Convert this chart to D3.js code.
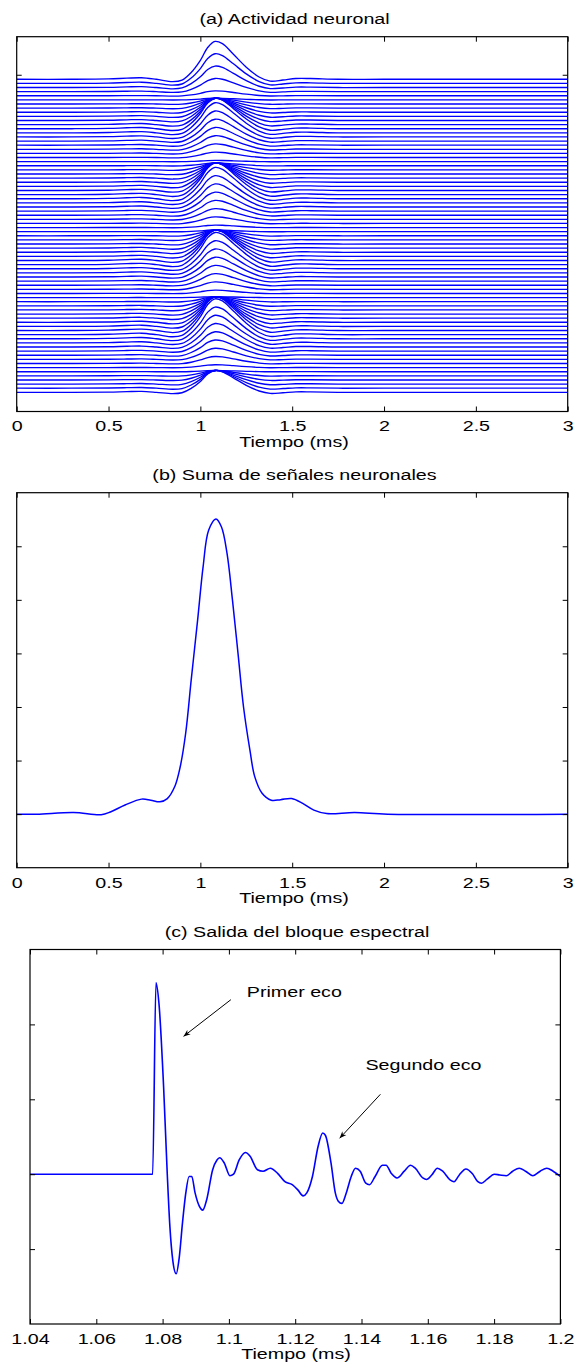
<!DOCTYPE html>
<html>
<head>
<meta charset="utf-8">
<script src="https://cdn.jsdelivr.net/npm/d3@7"></script>
<style>
  body { margin: 0; background: #fff; }
  svg { display: block; }
  text { font-family: "Liberation Sans", Arial, sans-serif; font-size: 15.5px; fill: #000; }
</style>
</head>
<body>
<svg id="chart"></svg>
<script>
// ---- data ----
// (a) unit response of one neuron (ms, normalised amplitude)
const unitTime = [0, 0.3, 0.5, 0.6, 0.68, 0.76, 0.85, 0.9, 0.95, 1.0, 1.04, 1.08, 1.12, 1.18, 1.25, 1.32, 1.38, 1.45, 1.52, 1.6, 1.75, 2.0, 3.0];
const unitValue = [0, 0, 0.01, 0.03, 0.04, 0.0, -0.06, -0.02, 0.18, 0.5, 0.84, 1.0, 0.94, 0.66, 0.32, 0.06, -0.05, -0.02, 0.02, 0.02, 0.0, 0, 0];
// (a) amplitude of each neuron trace, top to bottom (in trace spacings)
const neuronAmp = [
  9.2, 7.2, 5.2, 3.2, 1.2, 0.4, 1.4, 2.4, 3.4, 4.4, 5.4, 6.4, 7.4,
  7.3, 6.3, 5.3, 4.3, 3.3, 2.3, 1.3, 0.3, 0.7, 1.7, 2.7, 3.7, 4.7, 5.7, 6.7, 7.7,
  7.6, 6.6, 5.6, 4.6, 3.6, 2.6, 1.6, 0.6, 0.4, 1.4, 2.4, 3.4, 4.4, 5.4, 6.4, 7.4,
  7.8, 6.8, 5.8, 4.8, 3.8, 2.8, 1.8, 0.8, 0.2, 1.2, 2.2, 3.2, 4.2, 5.2, 6.2, 7.2, 8.2,
  8.7, 7.7, 6.7, 5.7, 4.7, 3.7, 2.7, 1.7, 0.7, 0.3, 1.3, 2.3, 3.3, 4.3, 5.3
];

// (b) sum of neuron signals
const sumTime = [0, 0.11, 0.31, 0.46, 0.51, 0.59, 0.68, 0.73, 0.78, 0.82, 0.86, 0.89, 0.92, 0.95, 0.985, 1.015, 1.045, 1.085, 1.115, 1.145, 1.175, 1.205, 1.235, 1.27, 1.296, 1.336, 1.386, 1.437, 1.497, 1.557, 1.618, 1.688, 1.84, 2.02, 3.0];
const sumValue = [0, 0, 0.03, -0.01, 0.04, 0.17, 0.28, 0.26, 0.23, 0.29, 0.51, 0.88, 1.51, 2.5, 3.62, 4.62, 5.3, 5.51, 5.36, 4.87, 3.99, 3.0, 2.0, 1.19, 0.7, 0.39, 0.26, 0.27, 0.29, 0.2, 0.075, 0.01, 0.03, 0, 0];

// (c) output of the spectral block
const specTime = [1.04, 1.077, 1.078, 1.0789, 1.0803, 1.0814, 1.0822, 1.0831, 1.0841, 1.085, 1.086, 1.087, 1.088, 1.0888, 1.0898, 1.0911, 1.0921, 1.0933, 1.0951, 1.0964, 1.0972, 1.0986, 1.1003, 1.1014, 1.1031, 1.105, 1.1064, 1.1086, 1.1103, 1.1125, 1.1147, 1.1169, 1.1191, 1.1208, 1.1224, 1.1235, 1.1252, 1.1269, 1.1283, 1.1291, 1.1308, 1.1321, 1.133, 1.1341, 1.1354, 1.1369, 1.1382, 1.1396, 1.1413, 1.1424, 1.1441, 1.1463, 1.1474, 1.149, 1.1507, 1.1529, 1.1548, 1.1562, 1.1585, 1.1596, 1.1612, 1.1629, 1.1645, 1.1668, 1.1679, 1.1695, 1.1715, 1.1734, 1.1751, 1.1762, 1.1778, 1.1801, 1.1817, 1.1837, 1.1856, 1.1876, 1.1895, 1.1917, 1.1939, 1.1959, 1.1978, 1.2];
const specValue = [0, 0, 2.556, 2.28, 1.17, 0.01, -0.7, -1.16, -1.33, -1.12, -0.65, -0.25, -0.03, -0.03, -0.25, -0.43, -0.48, -0.34, 0.06, 0.19, 0.22, 0.15, -0.02, 0.0, 0.19, 0.29, 0.24, 0.06, 0.04, 0.08, 0.01, -0.1, -0.14, -0.21, -0.29, -0.25, -0.03, 0.37, 0.55, 0.52, 0.15, -0.25, -0.36, -0.39, -0.25, -0.03, 0.08, 0.04, -0.12, -0.14, -0.03, 0.12, 0.12, 0.01, -0.05, 0.04, 0.12, 0.08, -0.05, -0.07, -0.01, 0.08, 0.04, -0.08, -0.1, -0.01, 0.07, 0.01, -0.1, -0.12, -0.07, 0.0, -0.01, -0.02, 0.04, 0.08, 0.04, -0.02, 0.04, 0.08, 0.04, -0.03];

const ticksAB = [0, 0.5, 1, 1.5, 2, 2.5, 3];
const ticksC = [1.04, 1.06, 1.08, 1.1, 1.12, 1.14, 1.16, 1.18, 1.2];
const titles = ["(a) Actividad neuronal", "(b) Suma de señales neuronales", "(c) Salida del bloque espectral"];
const xLabel = "Tiempo (ms)";
const notes = [
  { text: "Primer eco", at: [1.1054, 2.36], from: [1.1006, 2.33], to: [1.0863, 1.84] },
  { text: "Segundo eco", at: [1.1412, 1.385], from: [1.1457, 1.067], to: [1.1334, 0.479] }
];

// ---- drawing ----
const W = 576;
const H = 1364;
const stretch = 1.27;
const blue = "#0000ff";

const svg = d3.select("#chart").attr("width", W).attr("height", H);
svg.append("rect").attr("width", W).attr("height", H).attr("fill", "#fff");

const label = (x, y, txt, anchor) => {
  svg
    .append("text")
    .attr("transform", `translate(${x},${y}) scale(${stretch},1)`)
    .attr("text-anchor", anchor || "middle")
    .text(txt);
};

const frame = (box, xScale, yScale, xTicks, yTicks, fmt) => {
  const g = svg.append("g");
  const bottom = g
    .append("g")
    .attr("transform", `translate(0,${box.bottom})`)
    .call(d3.axisBottom(xScale).tickValues(xTicks).tickSize(-5).tickSizeOuter(0).tickPadding(9).tickFormat(fmt));
  bottom
    .selectAll("text")
    .attr("transform", `scale(${stretch},1)`)
    .style("font-size", "15.5px")
    .style("font-family", '"Liberation Sans", Arial, sans-serif');
  g.append("g")
    .attr("transform", `translate(0,${box.top})`)
    .call(d3.axisTop(xScale).tickValues(xTicks).tickSize(-5).tickSizeOuter(0).tickFormat(""));
  g.append("g")
    .attr("transform", `translate(${box.left},0)`)
    .call(d3.axisLeft(yScale).tickValues(yTicks).tickSize(-5).tickSizeOuter(0).tickFormat(""));
  g.append("g")
    .attr("transform", `translate(${box.right},0)`)
    .call(d3.axisRight(yScale).tickValues(yTicks).tickSize(-5).tickSizeOuter(0).tickFormat(""));
  g.selectAll(".domain").remove();
  g.selectAll(".tick line").attr("stroke", "#000").attr("stroke-width", 1);
  return g;
};

const drawBox = (box) => {
  svg
    .append("rect")
    .attr("x", box.left)
    .attr("y", box.top)
    .attr("width", box.right - box.left)
    .attr("height", box.bottom - box.top)
    .attr("fill", "none")
    .attr("stroke", "#000")
    .attr("stroke-width", 1.2);
};

// panel (a)
const boxA = { left: 16.7, right: 567.7, top: 36.7, bottom: 411.5 };
const xA = d3.scaleLinear().domain([0, 3]).range([boxA.left, boxA.right]);
const yA = d3.scaleLinear().domain([-4.66, 86.34]).range([boxA.bottom, boxA.top]);
const nTraces = neuronAmp.length;
const lineA = d3
  .line()
  .x((d) => xA(d[0]))
  .y((d) => yA(d[1]))
  .curve(d3.curveCatmullRom.alpha(0.5));
const traces = neuronAmp.map((amp, k) => {
  const base = nTraces - 1 - k;
  return unitTime.map((t, i) => [t, base + amp * unitValue[i]]);
});
const clipA = svg.append("clipPath").attr("id", "clipA");
clipA
  .append("rect")
  .attr("x", boxA.left)
  .attr("y", boxA.top)
  .attr("width", boxA.right - boxA.left)
  .attr("height", boxA.bottom - boxA.top);
svg
  .append("g")
  .attr("clip-path", "url(#clipA)")
  .selectAll("path")
  .data(traces)
  .enter()
  .append("path")
  .attr("d", lineA)
  .attr("fill", "none")
  .attr("stroke", blue)
  .attr("stroke-width", 1.35);
frame(boxA, xA, yA, ticksAB, [77.1], d3.format(""));
drawBox(boxA);
label(294.5, 23.7, titles[0]);
label(294, 447, xLabel);

// panel (b)
const boxB = { left: 16.7, right: 567.7, top: 492.7, bottom: 867.7 };
const xB = d3.scaleLinear().domain([0, 3]).range([boxB.left, boxB.right]);
const yB = d3.scaleLinear().domain([-1, 6]).range([boxB.bottom, boxB.top]);
const sumData = sumTime.map((t, i) => [t, sumValue[i]]);
svg
  .append("path")
  .datum(sumData)
  .attr("d", d3.line().x((d) => xB(d[0])).y((d) => yB(d[1])).curve(d3.curveCatmullRom.alpha(0.5)))
  .attr("fill", "none")
  .attr("stroke", blue)
  .attr("stroke-width", 1.5);
frame(boxB, xB, yB, ticksAB, [0, 1, 2, 3, 4, 5], d3.format(""));
drawBox(boxB);
label(294.5, 479.5, titles[1]);
label(294, 903, xLabel);

// panel (c)
const boxC = { left: 30, right: 560.4, top: 949.5, bottom: 1324 };
const xC = d3.scaleLinear().domain([1.04, 1.2]).range([boxC.left, boxC.right]);
const yC = d3.scaleLinear().domain([-2, 3]).range([boxC.bottom, boxC.top]);
const specData = specTime.map((t, i) => [t, specValue[i]]);
svg
  .append("path")
  .datum(specData)
  .attr("d", d3.line().x((d) => xC(d[0])).y((d) => yC(d[1])).curve(d3.curveMonotoneX))
  .attr("fill", "none")
  .attr("stroke", blue)
  .attr("stroke-width", 1.6);
frame(boxC, xC, yC, ticksC, [-1, 0, 1, 2], (d) => d3.format("")(+d.toFixed(2)));
drawBox(boxC);
label(297, 936.5, titles[2]);
label(296, 1359, xLabel);

// annotations
svg
  .append("defs")
  .append("marker")
  .attr("id", "head")
  .attr("viewBox", "0 0 10 10")
  .attr("refX", 10)
  .attr("refY", 5)
  .attr("markerWidth", 7)
  .attr("markerHeight", 7)
  .attr("orient", "auto")
  .append("path")
  .attr("d", "M0,1 L10,5 L0,9 L3,5 Z")
  .attr("fill", "#000");

svg
  .selectAll(".note-arrow")
  .data(notes)
  .enter()
  .append("line")
  .attr("class", "note-arrow")
  .attr("x1", (d) => xC(d.from[0]))
  .attr("y1", (d) => yC(d.from[1]))
  .attr("x2", (d) => xC(d.to[0]))
  .attr("y2", (d) => yC(d.to[1]))
  .attr("stroke", "#000")
  .attr("stroke-width", 1)
  .attr("marker-end", "url(#head)");

notes.forEach((n) => label(xC(n.at[0]), yC(n.at[1]), n.text, "start"));
</script>
</body>
</html>
